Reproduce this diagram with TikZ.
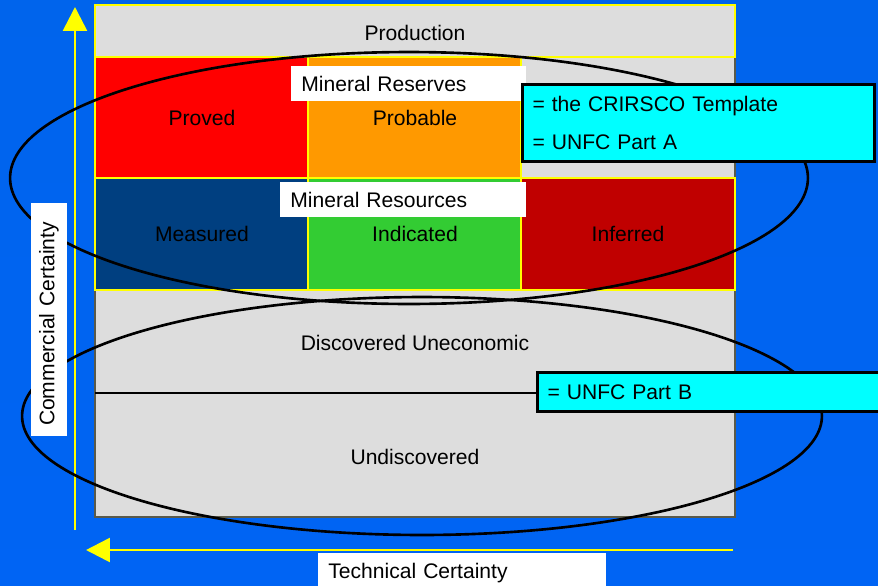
\documentclass[tikz,border=0pt]{standalone}
\usepackage{fontspec}
\setmainfont{Liberation Sans}
\usetikzlibrary{positioning, arrows.meta}

\definecolor{bgtop}{HTML}{0064EC}
\definecolor{bgmid}{HTML}{0050C4}
\definecolor{bgbottom}{HTML}{0064F4}
\definecolor{cellgray}{HTML}{DDDDDD}
\definecolor{framegray}{HTML}{5A5A4A}
\definecolor{provedred}{HTML}{FF0000}
\definecolor{probableorange}{HTML}{FF9900}
\definecolor{measuredblue}{HTML}{003F80}
\definecolor{indicatedgreen}{HTML}{33CC33}
\definecolor{inferredred}{HTML}{C00000}
\definecolor{notecyan}{HTML}{00FFFF}
\definecolor{axisyellow}{HTML}{FFFF00}

\tikzset{
  cell/.style={draw=axisyellow, line width=0.6pt},
  axis/.style={draw=axisyellow, line width=1.5pt, -{Triangle[width=0.48cm, length=0.48cm]}},
  ring/.style={draw=black, line width=1.5pt},
  whitetag/.style={fill=white, inner xsep=0.2cm, inner ysep=0pt, align=left},
  cyannote/.style={draw=black, fill=notecyan, line width=1.7pt, inner xsep=0.2cm, inner ysep=0pt, align=left}
}

\begin{document}
\begin{tikzpicture}[x=0.02cm, y=-0.02cm, font=\fontsize{12}{14}\selectfont]
\useasboundingbox (0,0) rectangle (878,585);
% background
\shade[top color=bgtop, middle color=bgmid, bottom color=bgbottom] (0,0) rectangle (878,585);

% frame and rows
\draw[framegray, fill=cellgray, line width=0.6pt] (95,57) rectangle (735,517);
\draw[cell, fill=cellgray] (95,5) rectangle (735,57);
\draw[cell, fill=provedred] (95,57) rectangle (308,178);
\draw[cell, fill=probableorange] (308,57) rectangle (521,178);
\draw[cell, fill=measuredblue] (95,178) rectangle (308,290);
\draw[cell, fill=indicatedgreen] (308,178) rectangle (521,290);
\draw[cell, fill=inferredred] (521,178) rectangle (735,290);
\draw[black, line width=0.6pt] (95,393) -- (735,393);

\node (production) at (415,33) {Production};
\node (proved) at (202,118) {Proved};
\node (probable) at (415,118) {Probable};
\node (measured) at (202,234) {Measured};
\node (indicated) at (415,234) {Indicated};
\node (inferred) at (628,234) {Inferred};
\node (uneconomic) at (415,343) {Discovered Uneconomic};
\node (undiscovered) at (415,457) {Undiscovered};

% axes
\coordinate (vbase) at (75,530);
\coordinate (vtip) at (75,7);
\coordinate (hbase) at (733,550);
\coordinate (htip) at (86,550);
\draw[axis] (vbase) -- (vtip);
\draw[axis] (hbase) -- (htip);

% groupings
\draw[ring] (409,178) ellipse [x radius=7.98cm, y radius=2.52cm];
\draw[ring] (422,416) ellipse [x radius=8cm, y radius=2.38cm];

% tags
\node[whitetag, text width=4.3cm, minimum height=0.7cm, anchor=north west] (reserves) at (291,66) {Mineral Reserves};
\node[whitetag, text width=4.52cm, minimum height=0.7cm, anchor=north west] (resources) at (280,182) {Mineral Resources};
\node[cyannote, text width=6.64cm, minimum height=1.54cm, anchor=north west] (parta) at (521,83)
  {= the CRIRSCO Template\\[7.6pt]= UNFC Part A};
\node[cyannote, text width=7cm, minimum height=0.78cm, anchor=north west] (partb) at (536,371) {= UNFC Part B};
\node[whitetag, rotate=90, text width=4.26cm, minimum height=0.72cm] (commercial) at (49,319.5) {Commercial Certainty};
\node[whitetag, text width=5.36cm, minimum height=0.8cm, anchor=north west] (technical) at (318,553) {Technical Certainty};
\end{tikzpicture}
\end{document}
